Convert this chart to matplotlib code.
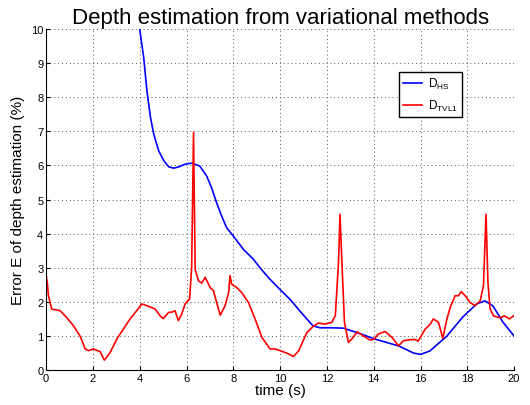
import matplotlib
matplotlib.use('Agg')
import matplotlib.pyplot as plt

plt.rcParams['font.family'] = ['Liberation Sans', 'DejaVu Sans']
plt.rcParams['mathtext.default'] = 'regular'

# D_HS error curve
t_hs = [4.0, 4.08, 4.17, 4.31, 4.46, 4.6, 4.81, 5.03, 5.24, 5.45, 5.67, 5.95, 6.24,
        6.57, 6.86, 7.07, 7.29, 7.5, 7.71, 8.0, 8.43, 8.86, 9.14, 9.57, 10.0,
        10.43, 10.86, 11.14, 11.4, 11.7, 12.2, 12.7, 13.28, 14.1, 15.1, 15.7,
        16.0, 16.4, 17.13, 17.8, 18.4, 18.76, 19.1, 19.53, 20.0]
e_hs = [10.0, 9.6, 9.17, 8.18, 7.41, 6.92, 6.43, 6.14, 5.96, 5.92, 5.96, 6.04, 6.07,
        5.98, 5.69, 5.35, 4.9, 4.52, 4.18, 3.93, 3.54, 3.25, 3.0, 2.66, 2.36,
        2.07, 1.72, 1.5, 1.3, 1.24, 1.24, 1.23, 1.1, 0.9, 0.7, 0.5,
        0.46, 0.56, 1.0, 1.55, 1.94, 2.03, 1.88, 1.4, 1.0]

# D_TVL1 error curve
t_tv = [0.0, 0.06, 0.1, 0.24, 0.6, 0.88, 1.17, 1.45, 1.67, 1.81, 2.02, 2.31, 2.49,
        2.74, 3.02, 3.3, 3.59, 3.87, 4.09, 4.3, 4.66, 4.87, 5.01, 5.23, 5.37, 5.51,
        5.65, 5.8, 5.94, 6.13, 6.22, 6.3, 6.37, 6.51, 6.65, 6.8, 7.01, 7.15, 7.29,
        7.44, 7.65, 7.8, 7.86, 7.93, 8.15, 8.36, 8.65, 8.93, 9.22, 9.57, 9.78, 9.99,
        10.28, 10.57, 10.79, 11.14, 11.43, 11.64, 11.93, 12.21, 12.36, 12.5, 12.56,
        12.64, 12.75, 12.92, 13.05, 13.3, 13.56, 13.85, 14.0, 14.2, 14.49, 14.78,
        15.06, 15.27, 15.56, 15.75, 15.9, 16.2, 16.42, 16.55, 16.77, 16.95, 17.13,
        17.27, 17.48, 17.62, 17.74, 17.91, 18.12, 18.33, 18.55, 18.69, 18.8, 18.88,
        18.97, 19.12, 19.4, 19.59, 19.8, 20.0]
e_tv = [2.8, 2.5, 2.18, 1.79, 1.74, 1.54, 1.3, 1.0, 0.62, 0.57, 0.62, 0.54, 0.29,
        0.52, 0.91, 1.2, 1.5, 1.74, 1.94, 1.89, 1.79, 1.59, 1.51, 1.69, 1.7, 1.74,
        1.45, 1.65, 1.94, 2.08, 3.0, 6.97, 2.96, 2.62, 2.55, 2.72, 2.42, 2.33, 1.98,
        1.61, 1.89, 2.27, 2.77, 2.52, 2.42, 2.27, 1.98, 1.5, 0.96, 0.62, 0.62, 0.57,
        0.5, 0.4, 0.56, 1.1, 1.29, 1.38, 1.35, 1.4, 1.6, 3.2, 4.57,
        3.2, 1.4, 0.81, 0.9, 1.12, 1.0, 0.88, 0.9, 1.06, 1.13, 0.96,
        0.71, 0.86, 0.89, 0.9, 0.85, 1.2, 1.35, 1.5, 1.4, 0.93, 1.5,
        1.84, 2.18, 2.18, 2.3, 2.18, 1.98, 1.89, 2.03, 2.47, 4.57, 2.6,
        1.8, 1.59, 1.53, 1.59, 1.5, 1.6]

fig = plt.figure(figsize=(5.3, 4.06), dpi=100)
ax = fig.add_axes([0.087, 0.086, 0.883, 0.840])

ax.plot(t_hs, e_hs, color='#0000ff', lw=1.2, label='D$_{HS}$')
ax.plot(t_tv, e_tv, color='#ff0000', lw=1.2, label='D$_{TVL1}$')

ax.set_xlim(0, 20)
ax.set_ylim(0, 10)
ax.set_xticks(range(0, 21, 2))
ax.set_yticks(range(0, 11))
ax.tick_params(direction='in', labelsize=8, length=3, pad=2)
ax.grid(True, linestyle=(0, (1, 3)), color='#555555', lw=0.7)
ax.spines['top'].set_visible(False)
ax.spines['right'].set_visible(False)

ax.set_title('Depth estimation from variational methods', fontsize=16, pad=4)
ax.set_xlabel('time (s)', fontsize=11, labelpad=0)
ax.set_ylabel('Error E of depth estimation (%)', fontsize=11, labelpad=4)

leg = ax.legend(loc='upper left', bbox_to_anchor=(0.754, 0.875), fontsize=8.5,
                fancybox=False, framealpha=1, edgecolor='black',
                handlelength=1.6, handletextpad=0.5, labelspacing=0.6,
                borderpad=0.35, borderaxespad=0)
leg.get_frame().set_linewidth(1.0)

plt.savefig('out.png', dpi=100)
